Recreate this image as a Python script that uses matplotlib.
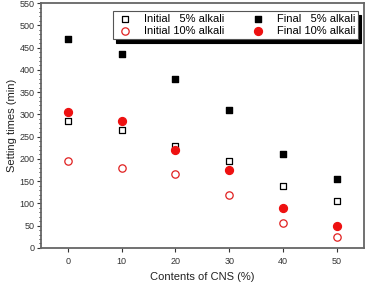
import matplotlib.pyplot as plt
from matplotlib.ticker import MultipleLocator

# Contents of CNS (%)
cns = [0, 10, 20, 30, 40, 50]

# Setting times (min)
initial_5 = [285, 265, 230, 195, 140, 105]
final_5 = [470, 435, 380, 310, 210, 155]
initial_10 = [195, 180, 165, 120, 55, 25]
final_10 = [305, 285, 220, 175, 90, 50]

plt.rcParams['font.family'] = ['Liberation Sans', 'DejaVu Sans']

fig = plt.figure(figsize=(3.71, 2.84), dpi=100)
ax = fig.add_axes([0.11, 0.127, 0.871, 0.862])

ax.scatter(cns, initial_5, marker='s', facecolors='white', edgecolors='black',
           s=22, linewidths=0.9, label='Initial   5% alkali', zorder=3)
ax.scatter(cns, initial_10, marker='o', facecolors='white', edgecolors='#e02020',
           s=28, linewidths=0.9, label='Initial 10% alkali', zorder=3)
ax.scatter(cns, final_5, marker='s', color='black', s=22,
           label='Final   5% alkali', zorder=3)
ax.scatter(cns, final_10, marker='o', color='#ee1111', s=32,
           label='Final 10% alkali', zorder=3)

ax.set_xlim(-5, 55)
ax.set_ylim(0, 550)
ax.xaxis.set_major_locator(MultipleLocator(10))
ax.yaxis.set_major_locator(MultipleLocator(50))
ax.yaxis.set_minor_locator(MultipleLocator(10))
ax.tick_params(labelsize=6.5, colors='#333333', width=0.8, length=3)
ax.tick_params(which='minor', length=1.8, width=0.6)
ax.tick_params(axis='y', pad=1.5)
for sp in ax.spines.values():
    sp.set_color('#666666')
    sp.set_linewidth(1.3)

ax.set_xlabel('Contents of CNS (%)', fontsize=8, color='#222222', labelpad=4)
ax.set_ylabel('Setting times (min)', fontsize=8, color='#222222', labelpad=2)

leg = ax.legend(ncol=2, loc='upper right', fontsize=8, frameon=True,
                fancybox=False, handletextpad=0.9, handlelength=1.6,
                columnspacing=2.3, borderpad=0.25, labelspacing=0.2,
                bbox_to_anchor=(1.0, 0.99),
                shadow={'color': 'black', 'alpha': 1, 'ox': 2, 'oy': -3})
leg.get_frame().set_edgecolor('#555555')
leg.get_frame().set_linewidth(0.8)

fig.savefig('out.png', dpi=100)
